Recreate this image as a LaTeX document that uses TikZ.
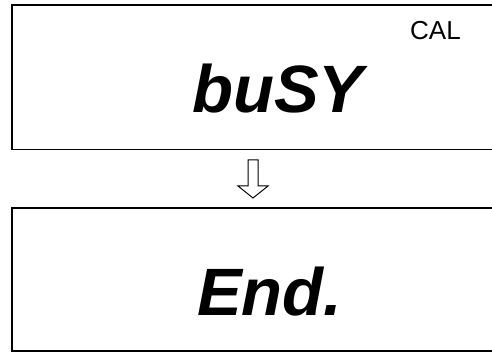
\documentclass[tikz,border=0pt]{standalone}
\usepackage{fontspec}
\setmainfont{Liberation Sans}
\begin{document}
\begin{tikzpicture}[x=1pt,y=-1pt,
  panel/.style={draw=black,line width=1.8pt,inner sep=0pt,minimum width=488pt},
  bigtxt/.style={inner sep=0pt,anchor=base west,font=\fontsize{67}{70}\selectfont\bfseries\itshape},
  smalltxt/.style={inner sep=0pt,anchor=base west,font=\fontsize{26}{28}\selectfont},
  hollowarrow/.style={draw=black,line width=1pt,fill=white,line join=miter}]
\useasboundingbox (0,0) rectangle (492,352);
\clip (0,0) rectangle (492,352);
\node[panel,minimum height=144.5pt] (box1) at (256,77.25) {};
\node[panel,minimum height=142.7pt] (box2) at (256,279.65) {};
\node[bigtxt] (busy) at (192,113) {buSY};
\node[smalltxt] (cal) at (410,39.5) {CAL};
\node[bigtxt] (end) at (197,315) {End.};
\coordinate (atop) at (253,160);
\draw[hollowarrow] (atop) +(-5,0) -- +(5,0) -- +(5,26) -- +(15,26) -- +(0,38) -- +(-15,26) -- +(-5,26) -- cycle;
\end{tikzpicture}
\end{document}
